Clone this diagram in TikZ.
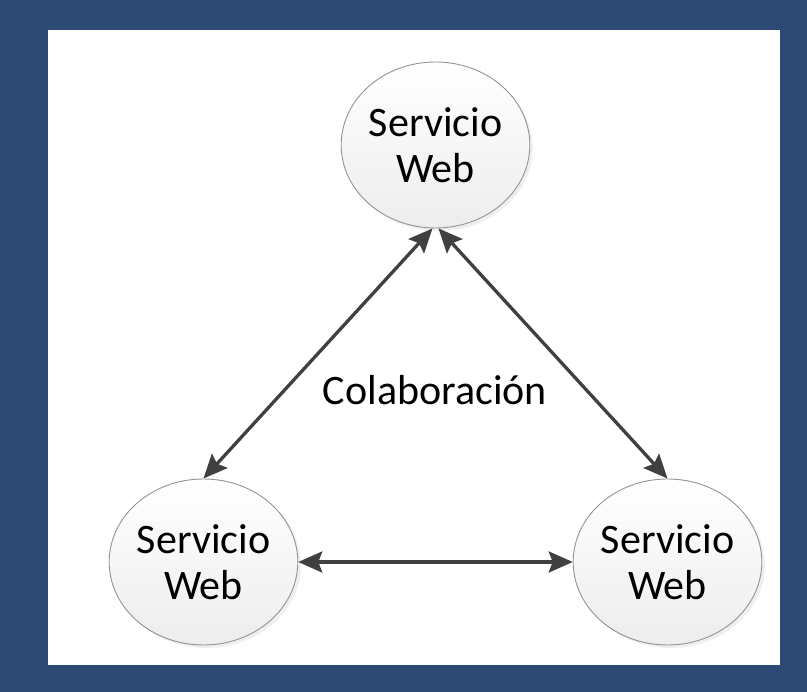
\documentclass[tikz,border=0pt]{standalone}
\usepackage{fontspec}
\setmainfont{Carlito}
\usepackage{xcolor}
\usetikzlibrary{shapes.geometric,arrows.meta,shadows}

\definecolor{marco}{RGB}{44,74,116}
\definecolor{flecha}{RGB}{64,64,64}

\tikzset{
    servicio/.style={ellipse, draw=gray!85, line width=0.9pt,
        minimum width=183pt, minimum height=166pt, inner sep=0pt,
        top color=white, bottom color=gray!14, align=center,
        drop shadow={opacity=0.12, shadow xshift=3pt, shadow yshift=-3pt},
        font=\fontsize{42}{46}\selectfont},
    colab/.style={line width=3.3pt, draw=flecha,
        {Stealth[length=24pt,width=21pt,inset=4pt]}-{Stealth[length=24pt,width=21pt,inset=4pt]}}
}

\begin{document}
\begin{tikzpicture}[x=1pt,y=-1pt]
        % marco y fondo
        \useasboundingbox (0,0) rectangle (807,692);
        \fill[marco] (0,0) rectangle (807,692);
        \fill[white] (48,30) rectangle (780,665);

        % centros de los servicios
        \coordinate (A) at (435.5,145);
        \coordinate (B) at (203.5,562);
        \coordinate (C) at (667.5,562);

        % servicios web
        \node[servicio] (s1) at (A) {Servicio\\Web};
        \node[servicio] (s2) at (B) {Servicio\\Web};
        \node[servicio] (s3) at (C) {Servicio\\Web};

        % flechas de colaboraci\'on
        \draw[colab] ([xshift=-3pt]s1.south) -- (s2.north);
        \draw[colab] ([xshift=3pt]s1.south) -- (s3.north);
        \draw[colab] (s2.east) -- (s3.west);

        \node[font=\fontsize{42}{46}\selectfont] (t) at (435,390) {Colaboración};
    \end{tikzpicture}
\end{document}
